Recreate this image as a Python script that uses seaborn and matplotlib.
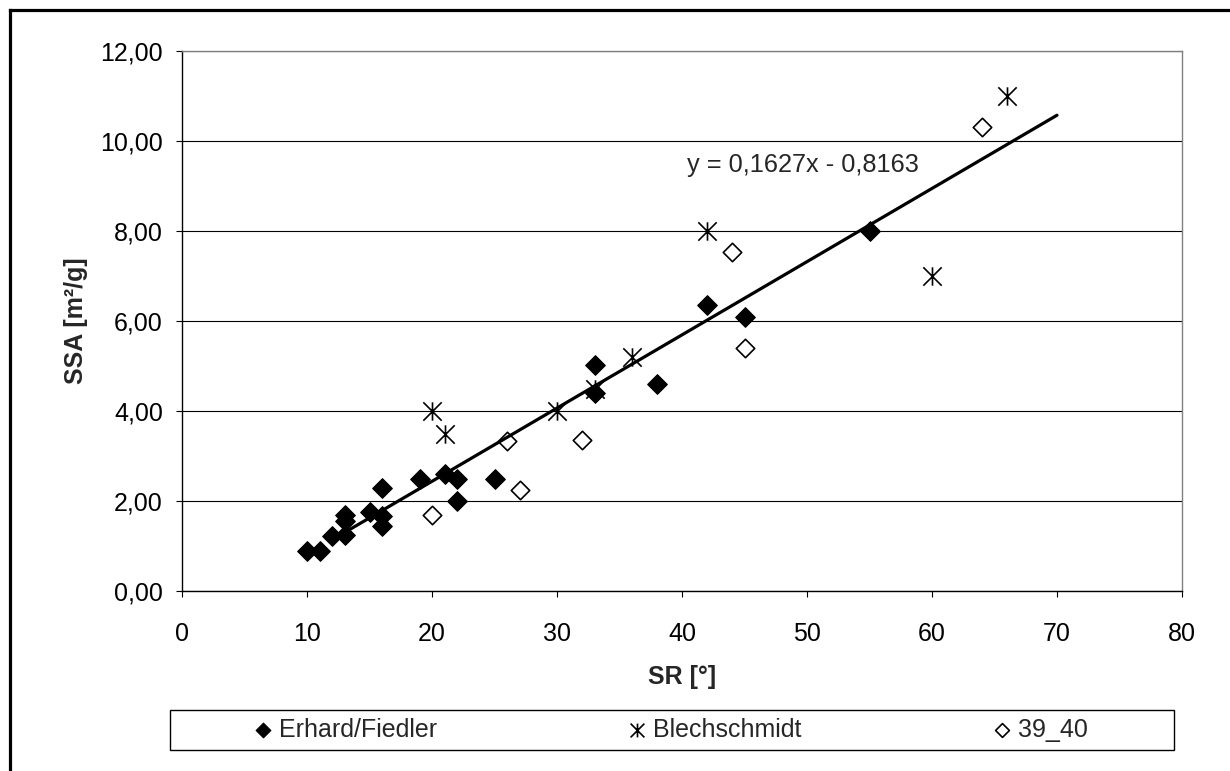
import numpy as np
import matplotlib
matplotlib.use('Agg')
import matplotlib.pyplot as plt
from matplotlib.path import Path
from matplotlib.patches import Rectangle
from matplotlib.lines import Line2D
from matplotlib.ticker import FuncFormatter, MultipleLocator
import seaborn as sns

# values: SR [°] vs SSA [m2/g]
erhard_sr = [10, 11, 12, 13, 13, 13, 15, 16, 16, 16, 19, 21, 22, 22, 25, 33, 33, 38, 42, 45, 55]
erhard_ssa = [0.90, 0.90, 1.22, 1.25, 1.55, 1.68, 1.76, 1.66, 1.45, 2.29, 2.50, 2.60, 2.49, 2.00,
              2.50, 5.02, 4.39, 4.60, 6.36, 6.08, 8.00]

blech_sr = [20, 21, 30, 33, 36, 42, 60, 66]
blech_ssa = [4.00, 3.50, 4.00, 4.50, 5.20, 8.00, 7.00, 11.00]

lab_sr = [20, 26, 27, 32, 44, 45, 64]
lab_ssa = [1.68, 3.33, 2.25, 3.36, 7.54, 5.41, 10.32]

series_names = ['Erhard/Fiedler', 'Blechschmidt', '39_40']

# linear trendline as given on the chart
trend_slope = 0.1627
trend_intercept = -0.8163
trend_sr = [12, 70]
trend_label = 'y = 0,1627x - 0,8163'

sns.set_style('white')
plt.rcParams['font.family'] = ['Liberation Sans', 'DejaVu Sans']

# excel style "star" marker: X with a vertical bar
star = Path([(0, -1), (0, 1), (-1, -1), (1, 1), (-1, 1), (1, -1)],
            [Path.MOVETO, Path.LINETO] * 3)

fig = plt.figure(figsize=(12.3, 7.71), dpi=100)
ax = fig.add_axes([182 / 1230, 180 / 771, 1000 / 1230, 540 / 771])

sns.scatterplot(x=erhard_sr, y=erhard_ssa, marker='D', s=100, color='black',
                edgecolor='black', linewidth=0.8, label=series_names[0], ax=ax, zorder=3)
sns.scatterplot(x=blech_sr, y=blech_ssa, marker=star, s=175, color='black',
                edgecolor='black', linewidth=1.2, label=series_names[1], ax=ax, zorder=3)
sns.scatterplot(x=lab_sr, y=lab_ssa, marker='D', s=88, facecolor='white',
                edgecolor='black', linewidth=1.2, label=series_names[2], ax=ax, zorder=3)

tx = np.array(trend_sr, dtype=float)
sns.lineplot(x=tx, y=trend_slope * tx + trend_intercept, color='black', lw=2.3, ax=ax, zorder=5)
ax.text(40.4, 9.47, trend_label, ha='left', va='center', fontsize=18.3)

ax.set_xlim(0, 80)
ax.set_ylim(0, 12)
ax.xaxis.set_major_locator(MultipleLocator(10))
ax.yaxis.set_major_locator(MultipleLocator(2))
ax.yaxis.set_major_formatter(FuncFormatter(lambda v, p: f'{v:.2f}'.replace('.', ',')))
ax.tick_params(bottom=True, left=True, direction='out', length=4.3, width=0.8,
               labelsize=18, colors='black')
ax.tick_params(axis='x', pad=18)
ax.tick_params(axis='y', pad=9.4)

ax.grid(axis='y', color='black', lw=0.8)
ax.grid(axis='x', visible=False)
ax.set_axisbelow(True)
for side in ['left', 'bottom']:
    ax.spines[side].set_color('black')
    ax.spines[side].set_linewidth(1.0)
for side in ['top', 'right']:
    ax.spines[side].set_color('#808080')
    ax.spines[side].set_linewidth(1.0)

ax.set_xlabel('SR [°]', fontsize=18, fontweight='bold')
ax.set_ylabel('SSA [m²/g]', fontsize=18, fontweight='bold')
ax.xaxis.set_label_coords(0.5, -0.137)
ax.yaxis.set_label_coords(-0.094, 0.5)

# legend in a box below the plot
handles, labels = ax.get_legend_handles_labels()
if ax.get_legend() is not None:
    ax.get_legend().remove()
fig.legend(handles, labels, loc='center', bbox_to_anchor=(0.545, 0.0532), ncol=3,
           frameon=False, fontsize=18, handlelength=0.8, handletextpad=0.25,
           columnspacing=7.6, markerscale=0.75)
fig.patches.append(Rectangle((170 / 1230, 21 / 771), 1004 / 1230, 40 / 771,
                             transform=fig.transFigure, fill=False, ec='black', lw=1.0))

# outer chart border: only its left and top edges are inside the image
bx, by = 10 / 1230, 1 - 10 / 771
fig.lines.append(Line2D([bx, bx], [0, by], transform=fig.transFigure, color='black',
                        lw=2.3, solid_capstyle='projecting'))
fig.lines.append(Line2D([bx, 1], [by, by], transform=fig.transFigure, color='black',
                        lw=2.3, solid_capstyle='projecting'))

fig.savefig('out.png', dpi=100)
